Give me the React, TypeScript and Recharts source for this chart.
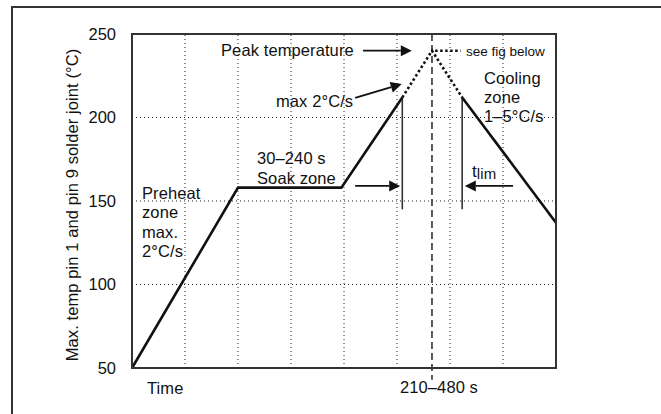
import { LineChart, Line, XAxis, YAxis, CartesianGrid, ReferenceLine } from 'recharts';

const TIME_TICKS = [0, 1, 2, 3, 4, 5, 6, 7, 8];
const TEMP_TICKS = [50, 100, 150, 200, 250];

// reflow profile, split where the line style changes
const RAMP_UP = [
  { t: 0, temp: 50 },
  { t: 2, temp: 158 },
  { t: 3.95, temp: 158 },
  { t: 5.1, temp: 212 },
];
const PEAK = [
  { t: 5.1, temp: 212 },
  { t: 5.66, temp: 240 },
  { t: 6.23, temp: 212 },
];
const COOLING = [
  { t: 6.23, temp: 212 },
  { t: 8, temp: 137 },
];
const SEE_BELOW = [
  { t: 5.72, temp: 240 },
  { t: 6.2, temp: 240 },
];

const T_PEAK = 5.66;
const LIMIT_MARKS = [5.1, 6.23];
const LIMIT_TOP = 212;
const LIMIT_LOW = 145;

const ARROWS = [
  { from: { x: 4.36, y: 240 }, to: { x: 5.28, y: 240 } },
  { from: { x: 4.21, y: 211.7 }, to: { x: 5.09, y: 220 } },
  { from: { x: 4.21, y: 159 }, to: { x: 5.06, y: 159 } },
  { from: { x: 7.19, y: 159 }, to: { x: 6.28, y: 159 } },
];

const FONT = '"Liberation Sans", Arial, Helvetica, sans-serif';
const INK = '#111';
const FRAME = '#333';

const Arrow = (p: any) => {
  const { x1, y1, x2, y2 } = p;
  const a = Math.atan2(y2 - y1, x2 - x1);
  const L = 11, W = 5.5;
  const bx = x2 - L * Math.cos(a);
  const by = y2 - L * Math.sin(a);
  const pts = `${x2},${y2} ${bx - W * Math.sin(a)},${by + W * Math.cos(a)} ${bx + W * Math.sin(a)},${by - W * Math.cos(a)}`;
  return (
    <g>
      <line x1={x1} y1={y1} x2={bx} y2={by} stroke={INK} strokeWidth={1.8} />
      <polygon points={pts} fill={INK} />
    </g>
  );
};

export default function App() {
  const txt = { fontFamily: FONT, fontSize: 16.5, fill: INK, letterSpacing: 0.1 };
  return (
    <div style={{ position: 'absolute', left: 0, top: 0, width: 661, height: 414, background: '#fff' }}>
      <LineChart width={661} height={414} margin={{ top: 34, right: 105, bottom: 16, left: 72 }}>
        <CartesianGrid stroke="#222" strokeDasharray="1 3" vertical={false} />
        <XAxis dataKey="t" type="number" domain={[0, 8]} ticks={TIME_TICKS} tick={false} stroke={FRAME} strokeWidth={2} tickLine={false} height={30} />
        <YAxis
          type="number"
          domain={[50, 250]}
          ticks={TEMP_TICKS}
          stroke={FRAME}
          strokeWidth={2}
          tickLine={false}
          tickSize={0}
          tickMargin={16}
          width={60}
          tick={{ fontFamily: FONT, fontSize: 16.5, fill: INK }}
        />
        {TIME_TICKS.slice(1, -1).map((x) => (
          <ReferenceLine key={'g' + x} x={x} stroke="#222" strokeDasharray="1 3" />
        ))}
        <ReferenceLine x={8} stroke={FRAME} strokeWidth={2} />
        <ReferenceLine y={250} stroke={FRAME} strokeWidth={2} />
        <ReferenceLine
          segment={[{ x: T_PEAK, y: 250 }, { x: T_PEAK, y: 43 }]}
          stroke="#333"
          strokeWidth={1.6}
          strokeDasharray="7 4"
          ifOverflow="visible"
        />
        {LIMIT_MARKS.map((x) => (
          <ReferenceLine key={x} segment={[{ x, y: LIMIT_TOP }, { x, y: LIMIT_LOW }]} stroke="#333" strokeWidth={1.6} />
        ))}
        {ARROWS.map((a, i) => (
          <ReferenceLine key={'a' + i} segment={[a.from, a.to]} shape={Arrow} ifOverflow="visible" />
        ))}
        <Line data={RAMP_UP} dataKey="temp" stroke={INK} strokeWidth={2.6} dot={false} isAnimationActive={false} />
        <Line data={PEAK} dataKey="temp" stroke={INK} strokeWidth={2.6} strokeDasharray="2.5 2.5" dot={false} isAnimationActive={false} />
        <Line data={COOLING} dataKey="temp" stroke={INK} strokeWidth={2.6} dot={false} isAnimationActive={false} />
        <Line data={SEE_BELOW} dataKey="temp" stroke={INK} strokeWidth={2.6} strokeDasharray="2.5 2.5" dot={false} isAnimationActive={false} />
      </LineChart>
      <svg width={661} height={414} style={{ position: 'absolute', left: 0, top: 0, pointerEvents: 'none' }}>
        <path d="M12 414 L12 7 L661 7" fill="none" stroke="#333" strokeWidth={2} />
        <path d="M132 34 L556 34 L556 368 L132 368 Z" fill="none" stroke="#333" strokeWidth={2} />
        <text transform="translate(77.5,205) rotate(-90)" textAnchor="middle" {...txt}>
          Max. temp pin 1 and pin 9 solder joint (°C)
        </text>
        <text x={147} y={394} {...txt}>Time</text>
        <text x={400} y={393} {...txt}>210–480 s</text>
        <text x={221} y={55.5} {...txt}>Peak temperature</text>
        <text x={466} y={56} {...txt} fontSize={13.5} letterSpacing={0}>see fig below</text>
        <text x={276} y={106.5} {...txt}>max 2°C/s</text>
        <text x={257} y={163.5} {...txt}>30–240 s</text>
        <text x={257} y={184} {...txt}>Soak zone</text>
        <text x={142} y={198.5} {...txt}>Preheat</text>
        <text x={142} y={218} {...txt}>zone</text>
        <text x={142} y={237.5} {...txt}>max.</text>
        <text x={142} y={257} {...txt}>2°C/s</text>
        <text x={484} y={83.5} {...txt}>Cooling</text>
        <text x={484} y={102.5} {...txt}>zone</text>
        <text x={484} y={121.5} {...txt}>1–5°C/s</text>
        <text x={472} y={176.5} {...txt} fontSize={17}>
          t<tspan fontSize={15} dy={2}>lim</tspan>
        </text>
      </svg>
    </div>
  );
}
